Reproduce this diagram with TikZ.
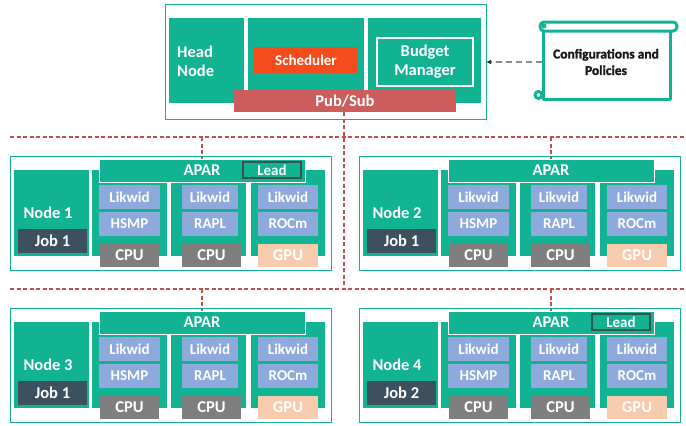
\documentclass[tikz,border=0pt]{standalone}
\usepackage{fontspec}
\setmainfont{Carlito}
\newfontfamily\cfgfont{Carlito}[BoldFeatures={FakeBold=1.5}]
\usetikzlibrary{arrows.meta}
\definecolor{tl}{HTML}{12B393}
\definecolor{schc}{HTML}{F44C1C}
\definecolor{pubc}{HTML}{CD5C5C}
\definecolor{lav}{HTML}{8EA9DB}
\definecolor{cpug}{HTML}{7F7F7F}
\definecolor{gpuc}{HTML}{F8CBAD}
\definecolor{jobc}{HTML}{3C5060}
\definecolor{leadc}{HTML}{2F5550}
\definecolor{redl}{HTML}{C0504D}
\definecolor{arrg}{HTML}{8C8C8C}
\newcommand\fA{\fontsize{16.5}{19}\selectfont\bfseries}
\newcommand\fB{\fontsize{15}{18}\selectfont\bfseries}
\newcommand\bx[7]{\node[#6, minimum width={(#4)-(#2)}, minimum height={(#5)-(#3)}] (#1) at ({((#2)+(#4))/2},{((#3)+(#5))/2}) {#7};}
\tikzset{
  bxx/.style={rectangle, inner sep=0pt, outer sep=0pt, text=white, font=\fA},
  panelbox/.style={bxx, draw=tl, line width=1pt, fill=white},
  tealbox/.style={bxx, fill=tl},
  aparbox/.style={bxx, fill=tl, draw=white, line width=1pt},
  leadbox/.style={bxx, fill=tl, draw=leadc, line width=1.3pt, font=\fB},
  lavbox/.style={bxx, fill=lav, font=\fB},
  cpubox/.style={bxx, fill=cpug},
  gpubox/.style={bxx, fill=gpuc},
  jobbox/.style={bxx, fill=jobc},
  wtxt/.style={inner sep=0pt, text=white, font=\fA},
  reddash/.style={draw=redl, line width=1.2pt, dash pattern=on 4pt off 2.5pt},
  scrollline/.style={draw=tl, line width=3pt, line join=round, line cap=round},
}
\newcommand\panel[5]{%
\begin{scope}[shift={(#2,#3)}]
\bx{#1o}{10}{156}{331}{270}{panelbox}{}
\bx{#1n}{14}{170}{89}{256}{tealbox}{}
\node[wtxt] (#1nt) at (48,212.5) {#4};
\bx{#1j}{18}{229}{87}{253}{jobbox}{#5}
\bx{#1c1}{92}{170}{167}{256}{tealbox}{}
\bx{#1c2}{171}{170}{246}{256}{tealbox}{}
\bx{#1c3}{251}{170}{325}{256}{tealbox}{}
\bx{#1a}{99}{159}{305}{182}{aparbox}{APAR}
\bx{#1la}{99}{185}{160}{209}{lavbox}{Likwid}
\bx{#1lb}{182}{185}{238}{209}{lavbox}{Likwid}
\bx{#1lc}{258}{185}{318}{209}{lavbox}{Likwid}
\bx{#1ha}{99}{212}{160}{236}{lavbox}{HSMP}
\bx{#1hb}{182}{212}{238}{236}{lavbox}{RAPL}
\bx{#1hc}{258}{212}{318}{236}{lavbox}{ROCm}
\bx{#1pa}{100}{244}{159}{267}{cpubox}{CPU}
\bx{#1pb}{182}{244}{241}{267}{cpubox}{CPU}
\bx{#1pc}{258}{244}{318}{267}{gpubox}{GPU}
\end{scope}}
\begin{document}
\begin{tikzpicture}[x=1pt,y=-1pt]
\useasboundingbox (0,0) rectangle (686,426);
% head area
\bx{head}{165}{4}{486}{119}{panelbox}{}
\bx{hn}{169}{18}{244}{103}{tealbox}{}
\node[wtxt, align=left, anchor=west] (hnt) at (177,61) {Head\\Node};
\bx{sc}{248}{18}{364}{103}{tealbox}{}
\bx{sched}{254}{47}{358}{73}{tealbox, fill=schc, font=\fB}{Scheduler}
\bx{bc}{368}{18}{481}{103}{tealbox}{}
\bx{bm}{377}{38}{473}{86}{aparbox, line width=1.3pt, align=center}{Budget\\Manager}
\bx{pub}{234}{90}{456}{112}{tealbox, fill=pubc}{Pub/Sub}
% configuration scroll
\draw[scrollline, fill=white] (543,31) -- (543,99) -- (670,99) -- (670,31);
\draw[scrollline, fill=white, rounded corners=4pt] (540,22) rectangle (677,31);
\draw[scrollline, fill=white] (538.5,95) circle (3.5);
\draw[scrollline] (544,26) circle (1.2);
\node[inner sep=0pt, align=center, font=\cfgfont\fontsize{13.5}{16.5}\selectfont\bfseries, text=black!90] (cfg) at (606,62) {Configurations and\\Policies};
\coordinate (cfgw) at (542,62);
\draw[arrg, line width=1.6pt, dash pattern=on 6pt off 4pt, -{Latex[length=5pt,width=5pt,black!80]}] (cfgw) -- (head.east |- cfgw);
% node panels
\panel{na}{0}{0}{Node 1}{Job 1}
\panel{nb}{349}{0}{Node 2}{Job 1}
\panel{nc}{0}{152}{Node 3}{Job 1}
\panel{nd}{349}{152}{Node 4}{Job 2}
\bx{leada}{243}{162}{301}{178}{leadbox}{Lead}
\bx{leadd}{592}{314}{650}{330}{leadbox}{Lead}
% red dashed bus
\coordinate (h1l) at (10,137);
\coordinate (h1r) at (684,137);
\coordinate (h2l) at (10,289);
\coordinate (h2r) at (684,289);
\coordinate (vb) at (344,289);
\draw[reddash] (h1l) -- (h1r);
\draw[reddash] (h2l) -- (h2r);
\draw[reddash] (pub.south -| vb) -- (vb);
\draw[reddash] (naa.north |- h1l) -- (naa.north);
\draw[reddash] (nba.north |- h1l) -- (nba.north);
\draw[reddash] (nca.north |- h2l) -- (nca.north);
\draw[reddash] (nda.north |- h2l) -- (nda.north);
\end{tikzpicture}
\end{document}
